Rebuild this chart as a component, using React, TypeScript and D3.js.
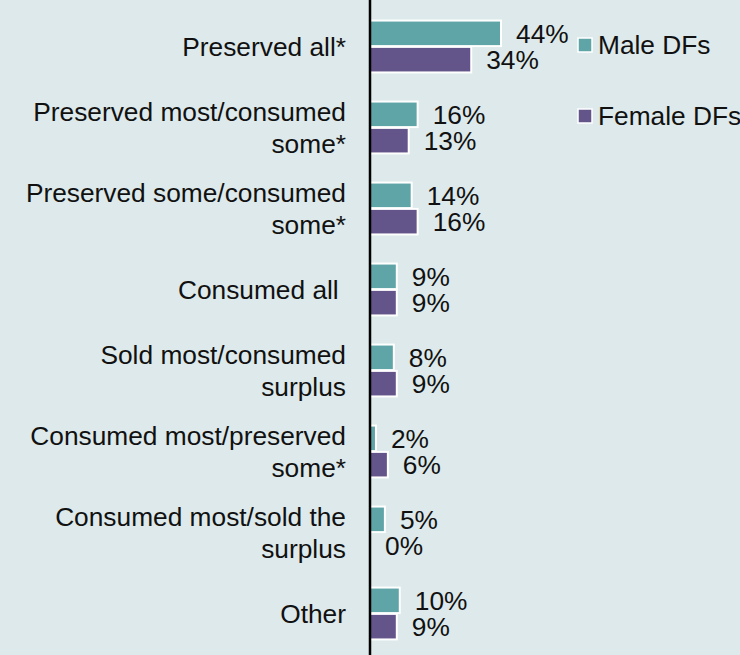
import React from "react";
import * as d3 from "d3";

const categories: string[][] = [
  ["Preserved all*"],
  ["Preserved most/consumed", "some*"],
  ["Preserved some/consumed", "some*"],
  ["Consumed all\u00a0"],
  ["Sold most/consumed", "surplus"],
  ["Consumed most/preserved", "some*"],
  ["Consumed most/sold the", "surplus"],
  ["Other"],
];
const maleValues = [44, 16, 14, 9, 8, 2, 5, 10];
const femaleValues = [34, 13, 16, 9, 9, 6, 0, 9];
const seriesNames = ["Male DFs", "Female DFs"];
const colors = ["#5fa4a7", "#63558a"];

const W = 740;
const H = 655;
const x0 = 370;

export default function App() {
  const x = d3.scaleLinear().domain([0, 44]).range([x0, 501]);
  const y = d3
    .scaleBand<number>()
    .domain(d3.range(categories.length))
    .range([6, 654])
    .paddingInner(0.34)
    .paddingOuter(0.17);
  const inner = d3.scaleBand<number>().domain([0, 1]).range([0, y.bandwidth()]).padding(0.03);
  const font = "'Liberation Sans', Arial, sans-serif";
  const fs = 26.3;
  return (
    <svg width={W} height={H} style={{ position: "absolute", left: 0, top: 0 }} fontFamily={font}>
      <rect x={0} y={0} width={W} height={H} fill="#dde9ea" />
      {categories.map((lines, i) => {
        const c = (y(i) ?? 0) + y.bandwidth() / 2;
        const lh = 32;
        const start = c - ((lines.length - 1) * lh) / 2;
        return (
          <text key={"l" + i} textAnchor="end" fontSize={fs} fill="#111" style={{ whiteSpace: "pre" }}>
            {lines.map((ln, j) => (
              <tspan key={j} x={346} y={start + j * lh} dy="0.35em">
                {ln}
              </tspan>
            ))}
          </text>
        );
      })}
      {[maleValues, femaleValues].map((vals, s) =>
        vals.map((v, i) => {
          const by = (y(i) ?? 0) + (inner(s) ?? 0);
          const bh = inner.bandwidth();
          return (
            <g key={s + "-" + i}>
              {v > 0 && (
                <rect x={x(0)} y={by} width={x(v) - x(0)} height={bh} fill={colors[s]} stroke="#ffffff" strokeWidth={2} />
              )}
              <text x={x(v) + 15} y={by + bh / 2} dy="0.35em" fontSize={fs} fill="#111">
                {v + "%"}
              </text>
            </g>
          );
        })
      )}
      <line x1={x0} x2={x0} y1={0} y2={H} stroke="#000" strokeWidth={2.5} />
      {seriesNames.map((n, s) => (
        <g key={"lg" + s} transform={`translate(578, ${45 + s * 71})`}>
          <rect x={0} y={-7} width={14} height={14} fill={colors[s]} stroke="#fff" strokeWidth={1.5} />
          <text x={20} y={0} dy="0.35em" fontSize={fs} fill="#111">
            {n}
          </text>
        </g>
      ))}
    </svg>
  );
}
